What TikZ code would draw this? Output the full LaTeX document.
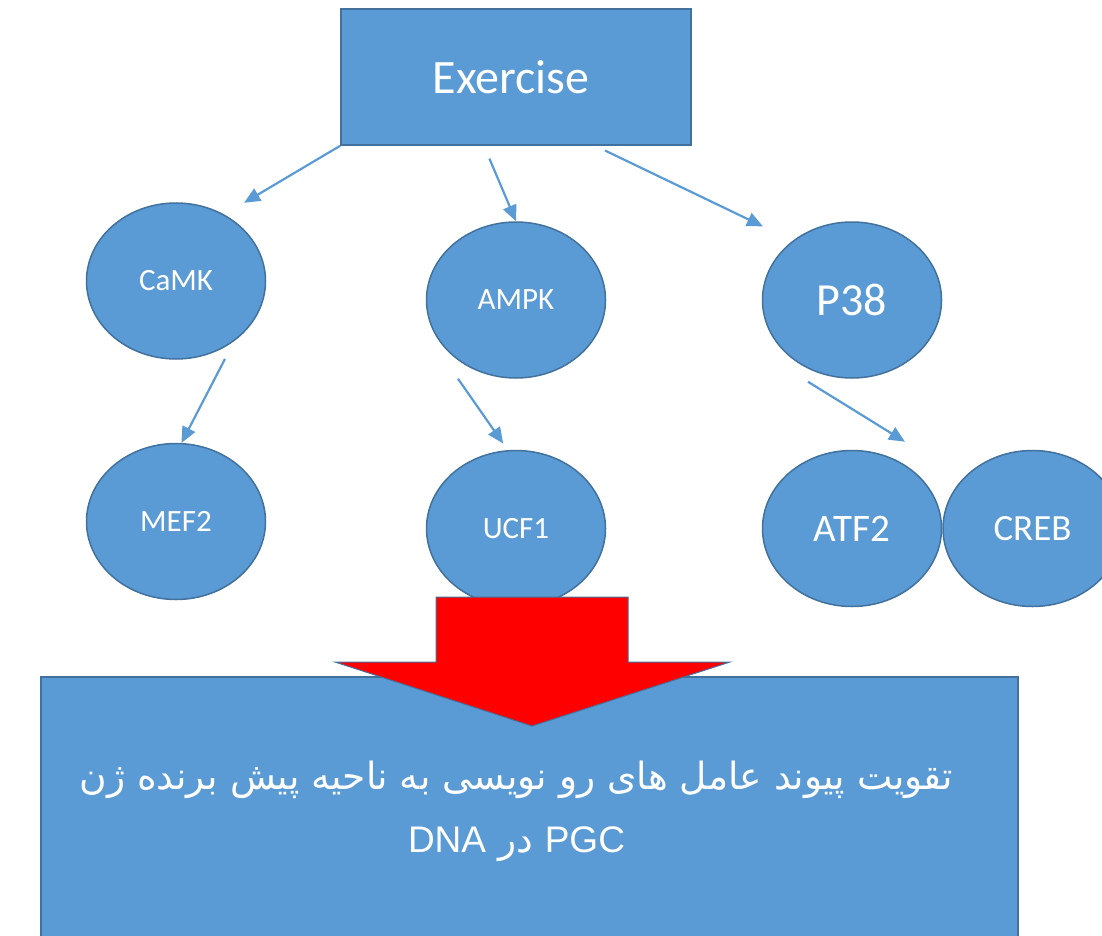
\documentclass[tikz,border=0pt]{standalone}
\usepackage{fontspec}
\setmainfont{Carlito}
\newfontfamily\arabicfont[Script=Arabic]{DejaVu Sans}
\newfontfamily\latinfont{Liberation Sans}
\TeXXeTstate=1
\usetikzlibrary{shapes.geometric,arrows.meta,positioning,calc}
\definecolor{cellblue}{HTML}{5B9BD5}
\definecolor{celledge}{HTML}{41719C}
\definecolor{pushred}{HTML}{FF0000}

\begin{document}
\begin{tikzpicture}[x=1pt, y=-1pt,
  cellbox/.style={ellipse, draw=celledge, fill=cellblue, line width=1.5pt, text=white,
                  minimum width=179pt, minimum height=156pt, inner sep=0pt,
                  font=\fontsize{31}{37}\selectfont},
  topbox/.style={rectangle, draw=celledge, fill=cellblue, line width=1.5pt, text=white, inner sep=0pt},
  arr/.style={-{Triangle[length=16pt,width=14pt]}, draw=cellblue, line width=2.2pt},
  node distance=71pt and 0pt
]
\useasboundingbox (0,0) rectangle (1102,936);
\clip (0,0) rectangle (1102,936);

%% Stimulus
\node[topbox, minimum width=350pt, minimum height=136pt, font=\fontsize{48}{58}\selectfont]
  (exer) at (516,77) {\raisebox{-3pt}{Exercise}\hspace*{10pt}};

%% Kinases
\node[cellbox] (camk) at (176,281) {CaMK};
\node[cellbox] (ampk) at (516,300) {AMPK};
\node[cellbox, font=\fontsize{46}{55}\selectfont] (p38) at (852,300) {P38};

%% Transcription factors
\node[cellbox, below=83pt of camk] (mef2) {MEF2};
\node[cellbox, below=of ampk] (ucf1) {UCF1};
\node[cellbox, below=of p38, font=\fontsize{39}{47}\selectfont] (atf2) {ATF2};
\node[cellbox, right=of atf2, font=\fontsize{37}{44}\selectfont] (creb) {CREB};

%% Arrows
\draw[arr, shorten >=23pt] (exer.south west) -- (camk.54);
\draw[arr, shorten <=14pt] (exer.245) -- (ampk.north);
\draw[arr, shorten <=11pt, shorten >=33pt] (exer.319) -- (p38.135);
\draw[arr, shorten <=20pt] (camk.314) -- (mef2.86);
\draw[arr, shorten >=8pt] ($(ampk.south)+(-58,0)$) -- (ucf1.96);
\draw[arr] ($(p38.south)+(-44,3)$) -- ($(atf2.north)+(53,-8)$);

%% Promoter box
\node[topbox, minimum width=977pt, minimum height=268pt] (promo) at (529.5,811) {};
\node[align=center, text=white, inner sep=0pt, font=\arabicfont\fontsize{37.5}{63}\selectfont]
  (promotext) at ($(promo.center)+(-13,0)$)
  {\beginR تقویت پیوند عامل های رو نویسی به ناحیه پیش برنده ژن\endR\\
   \beginR\beginL{\latinfont\fontsize{37}{63}\selectfont PGC}\endL{} در \beginL{\latinfont\fontsize{37}{63}\selectfont DNA}\endL{}\endR};

%% Big red arrow
\draw[fill=pushred, draw=celledge, line width=1pt]
  (436,597) -- (628,597) -- (628,662) -- (730,662) -- (532,726) -- (335,662) -- (436,662) -- cycle;

\end{tikzpicture}
\end{document}
